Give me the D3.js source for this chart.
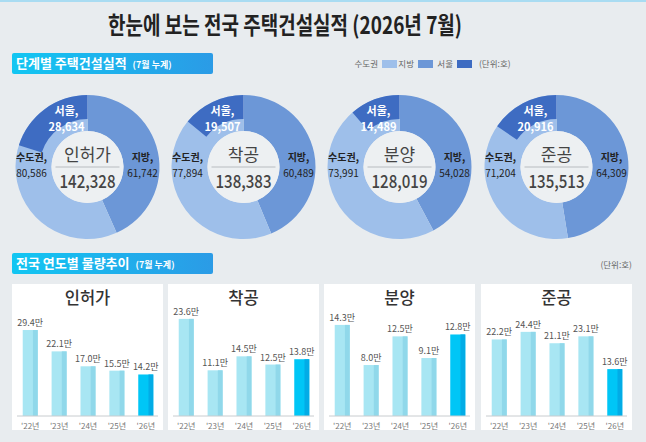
<!DOCTYPE html>
<html>
<head>
<meta charset="utf-8">
<script src="https://cdn.jsdelivr.net/npm/d3@7"></script>
<style>
body{margin:0;background:#e8ecef;}
svg{display:block;font-family:"Noto Sans CJK KR","Noto Sans",sans-serif;}
</style>
</head>
<body>
<svg id="chart" width="646" height="442"></svg>
<script>
// 단계별 (7월 누계, 단위:호)
var stages = ["인허가", "착공", "분양", "준공"];
var capital = [80586, 77894, 73991, 71204];   // 수도권
var local = [61742, 60489, 54028, 64309];     // 지방
var seoul = [28634, 19507, 14489, 20916];     // 서울 (수도권 중)
var totals = [142328, 138383, 128019, 135513];

// 연도별 물량 (만호)
var years = ["'22년", "'23년", "'24년", "'25년", "'26년"];
var permitVals = [29.4, 22.1, 17.0, 15.5, 14.2];
var startVals = [23.6, 11.1, 14.5, 12.5, 13.8];
var saleVals = [14.3, 8.0, 12.5, 9.1, 12.8];
var doneVals = [22.2, 24.4, 21.1, 23.1, 13.6];
var yMax = [34.2, 24.3, 15.7, 29.0];

var svg = d3.select("#chart");
var fmt = d3.format(",");

// 배경
svg.append("rect").attr("width", 646).attr("height", 442).attr("fill", "#e8ecef");
svg.append("rect").attr("width", 646).attr("height", 2).attr("fill", "#a9dcf2");

// 제목
svg.append("text").attr("x", 108).attr("y", 34)
   .attr("font-size", 24).attr("font-weight", 700).attr("fill", "#222")
   .attr("textLength", 354).attr("lengthAdjust", "spacingAndGlyphs")
   .text("한눈에 보는 전국 주택건설실적 (2026년 7월)");

// 섹션 헤더 그라데이션
var defs = svg.append("defs");
var grad = defs.append("linearGradient").attr("id", "hd");
grad.append("stop").attr("offset", "0%").attr("stop-color", "#12c6f2");
grad.append("stop").attr("offset", "100%").attr("stop-color", "#2b9be6");

function header(y, main, sub){
    svg.append("rect").attr("x", 12).attr("y", y).attr("width", 201).attr("height", 21)
       .attr("rx", 2).attr("fill", "url(#hd)");
    var t = svg.append("text").attr("x", 16).attr("y", y + 15).attr("fill", "#fff").attr("font-weight", 700);
    t.append("tspan").attr("font-size", 13).text(main);
    t.append("tspan").attr("font-size", 9).attr("dx", 6).text(sub);
}
header(53, "단계별 주택건설실적", "(7월 누계)");
header(253, "전국 연도별 물량추이", "(7월 누계)");

// 범례
var colCap = "#9ebfea", colLoc = "#6c97d7", colSeoul = "#3e6cc2";
var legend = [["수도권", colCap, 378], ["지방", colLoc, 414], ["서울", colSeoul, 453]];
legend.forEach(function(l){
    svg.append("text").attr("x", l[2]).attr("y", 67).attr("text-anchor", "end")
       .attr("font-size", 8.5).attr("fill", "#666").text(l[0]);
    svg.append("rect").attr("x", l[2] + 4).attr("y", 60).attr("width", 15).attr("height", 8).attr("fill", l[1]);
});
svg.append("text").attr("x", 479).attr("y", 67).attr("font-size", 8.5).attr("fill", "#666").text("(단위:호)");
svg.append("text").attr("x", 632).attr("y", 268).attr("text-anchor", "end").attr("font-size", 8.5).attr("fill", "#666").text("(단위:호)");

// 열 위치
var colX = [12, 168, 324, 481];
var colW = 151;

// 도넛
var cy = 167, rOut = 72, rIn = 36, rSeoul = 48;
var pie = d3.pie().sort(null).value(function(d){ return d; });
var arc = d3.arc().innerRadius(rIn).outerRadius(rOut);
var seoulArc = d3.arc().innerRadius(rSeoul).outerRadius(rOut);

stages.forEach(function(name, i){
    var cx = colX[i] + colW / 2;
    var g = svg.append("g").attr("transform", "translate(" + cx + "," + cy + ")");
    var slices = pie([local[i], capital[i]]);
    g.selectAll("path.s").data(slices).enter().append("path")
     .attr("d", arc)
     .attr("fill", function(d, k){ return k == 0 ? colLoc : colCap; });
    // 서울 (수도권 끝부분)
    var ang = d3.scaleLinear().domain([0, totals[i]]).range([0, 2 * Math.PI]);
    g.append("path").attr("d", seoulArc({startAngle: 2 * Math.PI - ang(seoul[i]), endAngle: 2 * Math.PI}))
     .attr("fill", colSeoul);
    g.append("circle").attr("r", rIn).attr("fill", "#edf0f2");

    // 가운데 글자
    g.append("text").attr("y", -6).attr("text-anchor", "middle").attr("font-size", 17)
     .attr("fill", "#444").text(name);
    g.append("line").attr("x1", -32).attr("x2", 32).attr("y1", 0).attr("y2", 0)
     .attr("stroke", "#b8bcc0").attr("stroke-width", 1);
    g.append("text").attr("x", -28).attr("y", 21).attr("font-size", 18)
     .attr("textLength", 56).attr("lengthAdjust", "spacingAndGlyphs")
     .attr("font-weight", 500).attr("fill", "#444").text(fmt(totals[i]));

    // 라벨
    function lab(x, y, l1, l2, col, size){
        var t = g.append("text").attr("text-anchor", "middle").attr("font-size", size)
                 .attr("fill", col).attr("font-weight", 700);
        t.append("tspan").attr("x", x).attr("y", y).text(l1);
        t.append("tspan").attr("x", x).attr("y", y + 16).attr("font-weight", col == "#fff" ? 700 : 400).text(l2);
    }
    lab(-56, -6, "수도권,", fmt(capital[i]), "#222", 10);
    lab(55, -6, "지방,", fmt(local[i]), "#222", 10);
    lab(-21, -52, "서울,", fmt(seoul[i]), "#fff", 11);
});

// 막대
var series = [permitVals, startVals, saleVals, doneVals];
var baseY = 416, topY = 316;
stages.forEach(function(name, i){
    var x0 = colX[i];
    var g = svg.append("g");
    g.append("rect").attr("x", x0).attr("y", 284).attr("width", colW).attr("height", 146).attr("fill", "#fff");
    g.append("text").attr("x", x0 + colW / 2).attr("y", 304).attr("text-anchor", "middle")
     .attr("font-size", 16.5).attr("font-weight", 500).attr("fill", "#333").text(name);

    var x = d3.scaleBand().domain(years).range([x0 + 3.5, x0 + 148.5]).paddingInner(0.48).paddingOuter(0.25);
    var y = d3.scaleLinear().domain([0, yMax[i]]).range([baseY, topY]);
    var vals = series[i];
    var bw = x.bandwidth();

    g.selectAll("rect.b").data(vals).enter().append("rect")
     .attr("x", function(d, k){ return x(years[k]); })
     .attr("y", function(d){ return y(d); })
     .attr("width", bw)
     .attr("height", function(d){ return baseY - y(d); })
     .attr("fill", function(d, k){ return k == vals.length - 1 ? "#00c6f6" : "#a8e6f3"; });
    g.selectAll("rect.sh").data(vals).enter().append("rect")
     .attr("x", function(d, k){ return x(years[k]) + bw * 0.68; })
     .attr("y", function(d){ return y(d); })
     .attr("width", bw * 0.32)
     .attr("height", function(d){ return baseY - y(d); })
     .attr("fill", function(d, k){ return k == vals.length - 1 ? "#02ace6" : "#90d8ea"; });

    g.selectAll("text.v").data(vals).enter().append("text")
     .attr("x", function(d, k){ return x(years[k]) + bw / 2; })
     .attr("y", function(d){ return y(d) - 4; })
     .attr("text-anchor", "middle").attr("font-size", 9).attr("fill", "#555")
     .text(function(d){ return d.toFixed(1) + "만"; });

    var ax = g.append("g").attr("transform", "translate(0," + baseY + ")")
              .call(d3.axisBottom(x).tickSize(0).tickPadding(7));
    ax.select(".domain").attr("stroke", "#c8cccf").attr("d", "M" + (x0 + 5) + ",0H" + (x0 + 146));
    ax.selectAll("text").attr("font-size", 8).attr("fill", "#777")
      .attr("font-family", "'Noto Sans CJK KR',sans-serif");
});
</script>
</body>
</html>
